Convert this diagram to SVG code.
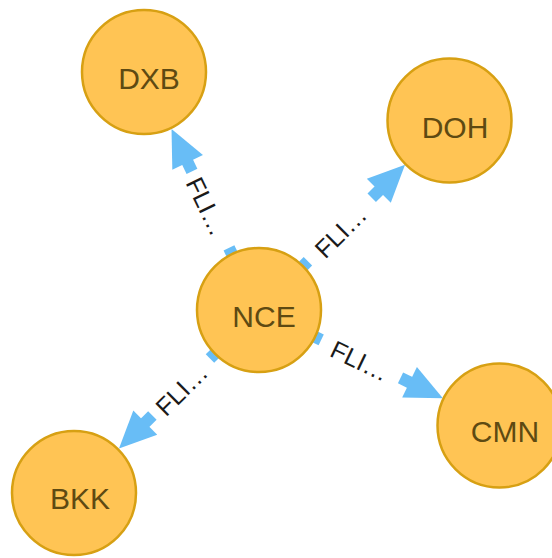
<svg xmlns="http://www.w3.org/2000/svg" width="552" height="558" viewBox="0 0 552 558">
  <style>
    .shaft { fill: #68BDF6; }
    .head { fill: #68BDF6; }
    .rel-label { font-family: "Liberation Sans", Arial, sans-serif; font-size: 25px; fill: #1a1a1a; text-anchor: middle; }
    .node circle { fill: #FFC454; stroke: #D7A013; stroke-width: 2.5; }
    .node text { font-family: "Liberation Sans", Arial, sans-serif; font-size: 30px; fill: #5E4A12; text-anchor: middle; }
  </style>
  <rect width="552" height="558" fill="#ffffff"/>

  <!-- relationships: each drawn in a frame whose x axis runs from NCE's centre towards the target -->
  <g id="connectors">
    <g id="rel-nce-dxb" transform="translate(259 310) rotate(-115.8)">
      <rect class="shaft" x="56" y="-6" width="13" height="12"/>
      <rect class="shaft" x="154" y="-6" width="11" height="12"/>
      <polygon class="head" points="164,-17 201,0 164,17"/>
      <text class="rel-label" x="116" y="11" transform="rotate(180 116 0)">FLI…</text>
    </g>
    <g id="rel-nce-doh" transform="translate(259 310) rotate(-44.85)">
      <rect class="shaft" x="56" y="-6" width="13" height="12"/>
      <rect class="shaft" x="159" y="-6" width="11" height="12"/>
      <polygon class="head" points="169,-17 206,0 169,17"/>
      <text class="rel-label" x="113" y="11">FLI…</text>
    </g>
    <g id="rel-nce-cmn" transform="translate(259 310) rotate(25.65)">
      <rect class="shaft" x="56" y="-6" width="13" height="12"/>
      <rect class="shaft" x="157" y="-6" width="11" height="12"/>
      <polygon class="head" points="167,-17 204,0 167,17"/>
      <text class="rel-label" x="113" y="11">FLI…</text>
    </g>
    <g id="rel-nce-bkk" transform="translate(259 310) rotate(135.3)">
      <rect class="shaft" x="56" y="-6" width="13" height="12"/>
      <rect class="shaft" x="150" y="-6" width="11" height="12"/>
      <polygon class="head" points="160,-17 197,0 160,17"/>
      <text class="rel-label" x="111" y="11" transform="rotate(180 111 0)">FLI…</text>
    </g>
  </g>

  <!-- airport nodes -->
  <g id="node-dxb" class="node">
    <circle cx="144" cy="72" r="62"/>
    <text x="149" y="89">DXB</text>
  </g>
  <g id="node-doh" class="node">
    <circle cx="449.5" cy="120.5" r="62"/>
    <text x="455" y="138">DOH</text>
  </g>
  <g id="node-nce" class="node">
    <circle cx="259" cy="310" r="62"/>
    <text x="264" y="327">NCE</text>
  </g>
  <g id="node-cmn" class="node">
    <circle cx="499.5" cy="425.5" r="62"/>
    <text x="505" y="442">CMN</text>
  </g>
  <g id="node-bkk" class="node">
    <circle cx="74" cy="493" r="62"/>
    <text x="80" y="509">BKK</text>
  </g>
</svg>
